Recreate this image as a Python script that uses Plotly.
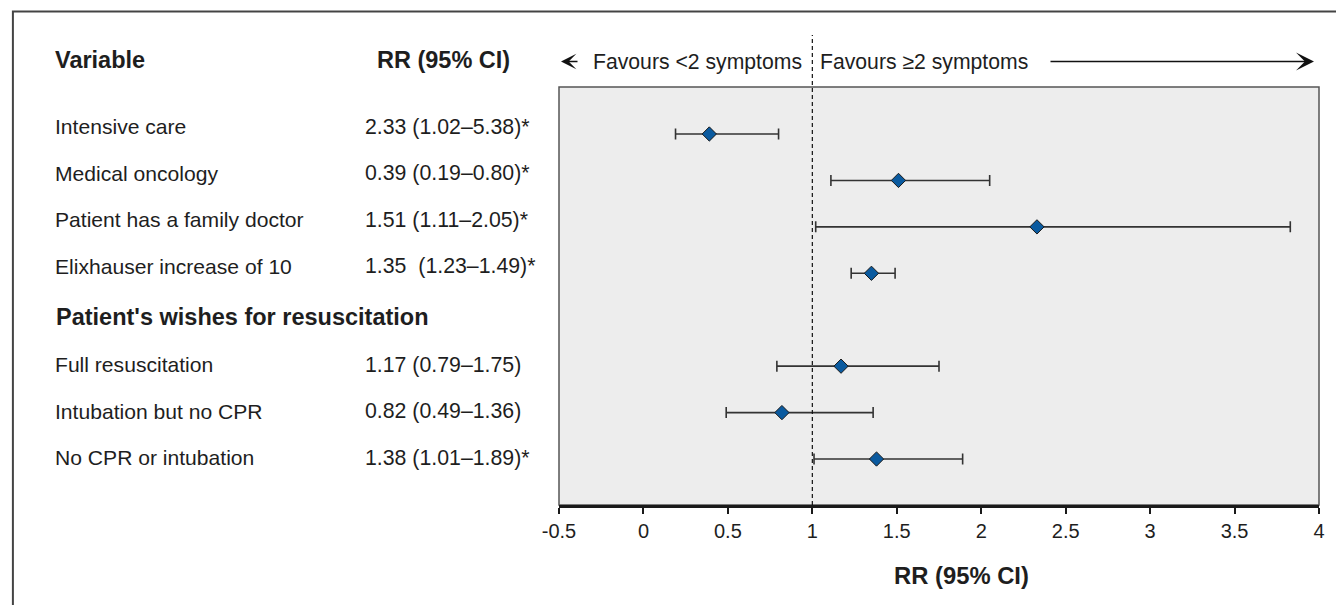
import plotly.graph_objects as go

# ---------------- data ----------------
row_labels = ["Intensive care", "Medical oncology", "Patient has a family doctor",
              "Elixhauser increase of 10", "Patient's wishes for resuscitation",
              "Full resuscitation", "Intubation but no CPR", "No CPR or intubation"]
row_is_header = [False, False, False, False, True, False, False, False]
rr_text = ["2.33 (1.02–5.38)*", "0.39 (0.19–0.80)*", "1.51 (1.11–2.05)*",
           "1.35\u00a0 (1.23–1.49)*", "", "1.17 (0.79–1.75)", "0.82 (0.49–1.36)",
           "1.38 (1.01–1.89)*"]

# plotted points as drawn in the picture (row index -> estimate, lower, upper)
point_rows = [0, 1, 2, 3, 5, 6, 7]
point_est = [0.39, 1.51, 2.33, 1.35, 1.17, 0.82, 1.38]
point_lo = [0.19, 1.11, 1.02, 1.23, 0.79, 0.49, 1.01]
point_hi = [0.80, 2.05, 3.83, 1.49, 1.75, 1.36, 1.89]

x_min, x_max = -0.5, 4.0
tick_vals = [-0.5, 0, 0.5, 1, 1.5, 2, 2.5, 3, 3.5, 4]
tick_text = ["-0.5", "0", "0.5", "1", "1.5", "2", "2.5", "3", "3.5", "4"]
ref_value = 1.0

col_header_var = "Variable"
col_header_rr = "RR (95% CI)"
axis_title = "RR (95% CI)"
favour_left = "Favours &lt;2 symptoms"
favour_right = "Favours ≥2 symptoms"

# ---------------- layout constants (screen pixels; page body has 8px margin) ----------------
OFF = 8
W, H = 1344 - OFF, 605 - OFF
PLOT_L, PLOT_R, PLOT_T, PLOT_B = 559, 1319, 87, 505   # screen pixels
L = PLOT_L - OFF
T = PLOT_T - OFF
R = W - (PLOT_R - OFF)
B = H - (PLOT_B - OFF)
PW, PH = W - L - R, H - T - B
FONT = "Liberation Sans, Arial, Helvetica, sans-serif"
TXT = "#1e1e1e"


def sx(px):
    return (px - PLOT_L) / PW


def sy(py):
    return (PLOT_B - py) / PH


fig = go.Figure()

fig.add_trace(go.Scatter(
    x=point_est, y=point_rows, mode="markers",
    marker=dict(symbol="diamond", size=11, color="#0a5a9f",
                line=dict(width=1, color="#1a1a1a")),
    error_x=dict(type="data", symmetric=False,
                 array=[h - e for h, e in zip(point_hi, point_est)],
                 arrayminus=[e - l for e, l in zip(point_est, point_lo)],
                 color="#333333", thickness=1.6, width=5.5),
    cliponaxis=False, showlegend=False, hoverinfo="skip"))

annotations = []
HDR = 23.5
LAB = 21.1
annotations.append(dict(text=f"<b>{col_header_var}</b>", xref="paper", yref="paper",
                        x=sx(53), y=sy(60), xanchor="left",
                        yanchor="middle", showarrow=False,
                        font=dict(size=HDR, color=TXT, family=FONT)))
annotations.append(dict(text=f"<b>{col_header_rr}</b>", xref="paper", yref="paper",
                        x=sx(443), y=sy(60), xanchor="center",
                        yanchor="middle", showarrow=False,
                        font=dict(size=HDR, color=TXT, family=FONT)))

for i, (lab, hdr, rr) in enumerate(zip(row_labels, row_is_header, rr_text)):
    shift = 7 if i < 4 else (3 if hdr else 1.5)
    if hdr:
        annotations.append(dict(text=f"<b>{lab}</b>", xref="paper", yref="y",
                                x=sx(54), y=i, yshift=shift,
                                xanchor="left", yanchor="middle", showarrow=False,
                                font=dict(size=HDR, color=TXT, family=FONT)))
    else:
        annotations.append(dict(text=lab, xref="paper", yref="y",
                                x=sx(53), y=i, yshift=shift,
                                xanchor="left", yanchor="middle", showarrow=False,
                                font=dict(size=LAB, color=TXT, family=FONT)))
    if rr:
        annotations.append(dict(text=rr, xref="paper", yref="y",
                                x=sx(363), y=i, yshift=shift,
                                xanchor="left", yanchor="middle", showarrow=False,
                                font=dict(size=21.3, color=TXT, family=FONT)))

# favours texts and arrows
fy = sy(61.5)
annotations.append(dict(text=favour_left, xref="paper", yref="paper",
                        x=sx(591), y=fy, xanchor="left", yanchor="middle",
                        showarrow=False, font=dict(size=21.2, color=TXT, family=FONT)))
annotations.append(dict(text=favour_right, xref="paper", yref="paper",
                        x=sx(818), y=fy, xanchor="left", yanchor="middle",
                        showarrow=False, font=dict(size=21.2, color=TXT, family=FONT)))
annotations.append(dict(text="", xref="paper", yref="paper",
                        x=sx(561), y=fy, ax=18, ay=0,
                        showarrow=True, arrowhead=3, arrowsize=1.6, arrowwidth=1.6,
                        arrowcolor="#111111"))
annotations.append(dict(text="", xref="paper", yref="paper",
                        x=sx(1314), y=fy, ax=-265, ay=0,
                        showarrow=True, arrowhead=3, arrowsize=2.0, arrowwidth=1.5,
                        arrowcolor="#111111"))
# axis title
annotations.append(dict(text=f"<b>{axis_title}</b>", xref="paper", yref="paper",
                        x=sx(961), y=sy(575), xanchor="center",
                        yanchor="middle", showarrow=False,
                        font=dict(size=23.8, color=TXT, family=FONT)))

ref_x_paper = (ref_value - x_min) / (x_max - x_min)
shapes = [
    # outer frame
    dict(type="rect", xref="paper", yref="paper",
         x0=sx(12.9), x1=1.2, y0=-0.5, y1=sy(11.5),
         line=dict(color="#444444", width=2), fillcolor="rgba(0,0,0,0)", layer="below"),
    # plot border
    dict(type="rect", xref="paper", yref="paper", x0=0, x1=1, y0=0, y1=1,
         line=dict(color="#555555", width=1.5), fillcolor="rgba(0,0,0,0)", layer="below"),
    # reference line
    dict(type="line", xref="paper", yref="paper", x0=ref_x_paper, x1=ref_x_paper,
         y0=0, y1=sy(35), line=dict(color="#111111", width=1.2, dash="4px,3px"),
         layer="above"),
]

fig.update_layout(
    width=W, height=H,
    margin=dict(l=L, r=R, t=T, b=B, pad=0),
    paper_bgcolor="white", plot_bgcolor="#ededed",
    font=dict(family=FONT, color=TXT),
    xaxis=dict(range=[x_min, x_max], tickvals=tick_vals, ticktext=tick_text,
               showgrid=False, zeroline=False, showline=True, linecolor="#1a1a1a",
               linewidth=2.5, ticks="outside", ticklen=6, tickwidth=1.5,
               tickcolor="#1a1a1a", tickfont=dict(size=20, color=TXT, family=FONT)),
    yaxis=dict(range=[7.99, -1.012], visible=False),
    annotations=annotations, shapes=shapes,
)

fig.write_html("out.html")
